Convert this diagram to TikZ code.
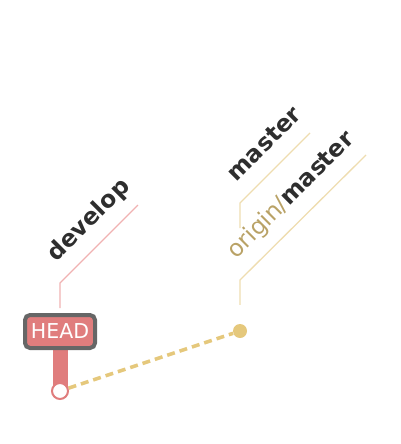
\documentclass[tikz,border=0pt]{standalone}
\usepackage{fontspec}
\setmainfont{DejaVu Sans}
\usetikzlibrary{positioning, calc, backgrounds}

\definecolor{headRed}{HTML}{E07D7D}
\definecolor{headGray}{HTML}{666666}
\definecolor{devPink}{HTML}{F0B2B2}
\definecolor{masterGold}{HTML}{E5C87C}
\definecolor{masterLine}{HTML}{EEDDB0}
\definecolor{originTan}{HTML}{B9A266}
\definecolor{labelInk}{HTML}{2E2E2E}

\begin{document}
\begin{tikzpicture}[
  x=1pt, y=-1pt,
  % Commits
  commit/.style={circle, draw=headRed, fill=white, line width=2pt, minimum size=16pt, inner sep=0pt},
  commitDot/.style={circle, fill=masterGold, minimum size=14pt, inner sep=0pt},
  % HEAD tag
  headTag/.style={rectangle, rounded corners=5pt, draw=headGray, fill=headRed, line width=4pt, text=white,
    font=\fontsize{20.5}{20.5}\selectfont, minimum width=70pt, minimum height=33pt, inner sep=0pt},
  headBar/.style={headRed, line width=15pt},
  parentLink/.style={masterGold, line width=3.5pt, dash pattern=on 8pt off 5pt},
  % Branch labels
  labelLine/.style={line width=1.3pt},
  branchText/.style={rotate=45, anchor=base west, inner sep=0pt,
    font=\fontsize{23.5}{23.5}\selectfont\bfseries, text=labelInk}
  ]
  \useasboundingbox (0,0) rectangle (400,444);

  % --- Commits ---
  \node[commit] (C1) at (60,391) {};
  \node[commitDot] (C2) at (240,331) {};

  % --- HEAD ---
  \node[headTag] (HEAD) at (60,331.5) {HEAD};

  \begin{scope}[on background layer]
    \draw[parentLink] (C1) -- (C2);
    \draw[headBar] (HEAD.south) -- (C1.center);
  \end{scope}

  % --- Branch label lines ---
  \coordinate (devBend) at (60,283);
  \coordinate (devEnd) at (138,205);
  \draw[labelLine, devPink, shorten <=5pt] (HEAD.north) -- (devBend) -- (devEnd);

  \coordinate (originBend) at (240,280);
  \coordinate (originEnd) at (366,155);
  \draw[labelLine, masterLine, shorten <=19pt] (C2.north) -- (originBend) -- (originEnd);

  \coordinate (masterStart) at (240,228);
  \coordinate (masterBend) at (240,203);
  \coordinate (masterEnd) at (310,133);
  \draw[labelLine, masterLine] (masterStart) -- (masterBend) -- (masterEnd);

  % --- Branch names ---
  \node[branchText] (devLabel) at (56.5,262.5) {develop};
  \node[branchText] (masterLabel) at (236.5,182.5) {master};
  \node[branchText] (originLabel) at (236.5,259.5) {\textcolor{originTan}{\mdseries origin/}master};

\end{tikzpicture}
\end{document}
